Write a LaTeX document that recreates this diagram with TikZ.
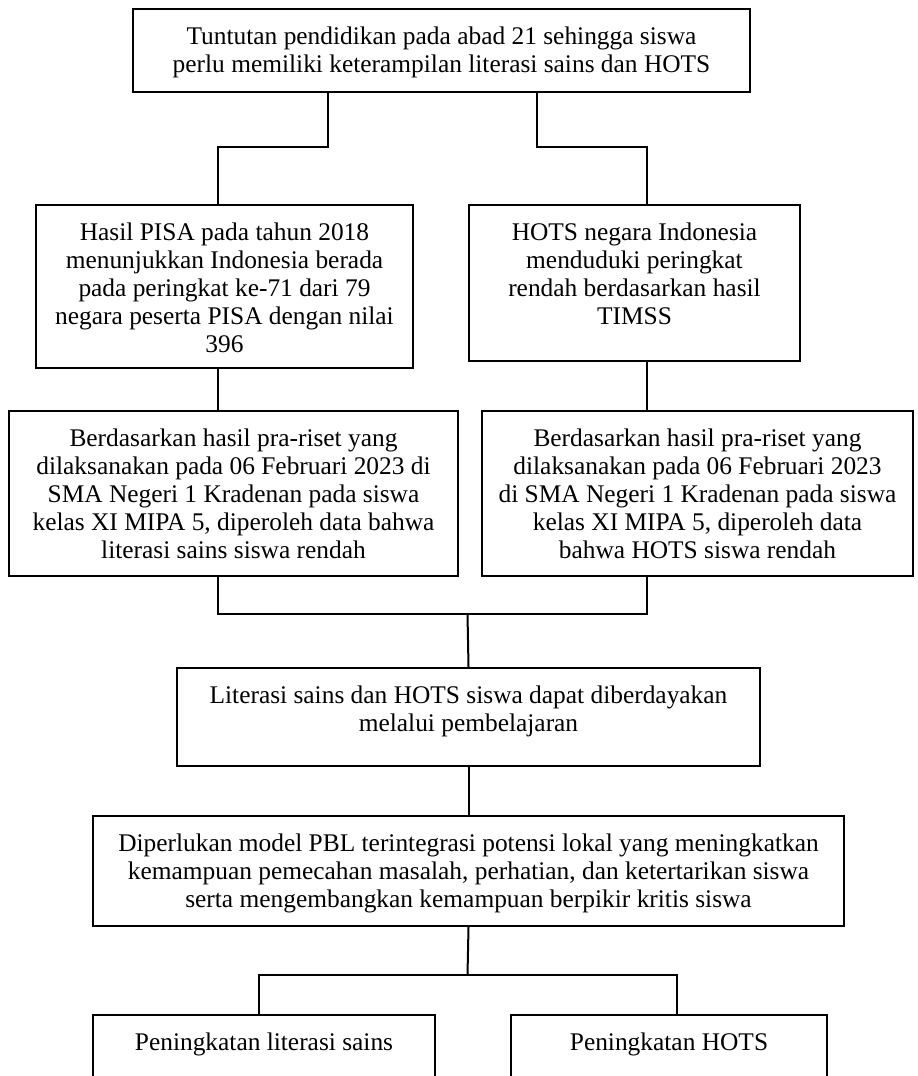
\documentclass[tikz,border=0pt]{standalone}
\usepackage{fontspec}
\setmainfont{Liberation Serif}
\usetikzlibrary{calc}

\begin{document}
\begin{tikzpicture}[
  x=0.5pt, y=-0.5pt,
  box/.style 2 args={draw, line width=1pt, anchor=north west, inner sep=0pt,
    execute at begin node={\begin{minipage}[c][#2][t]{#1}\centering\fontsize{12.7}{14}\selectfont\vspace*{9pt}},
    execute at end node={\end{minipage}}},
  link/.style={line width=1pt}
]
  \useasboundingbox (0,0) rectangle (917,1076);
  \clip (0,0) rectangle (917,1076);

  \node[box={308.5pt}{41.5pt}] (tuntutan) at (132,8) {Tuntutan pendidikan pada abad 21 sehingga siswa\\perlu memiliki keterampilan literasi sains dan HOTS};
  \node[box={188.5pt}{81.5pt}] (pisa) at (35,204) {Hasil PISA pada tahun 2018\\menunjukkan Indonesia berada\\pada peringkat ke-71 dari 79\\negara peserta PISA dengan nilai\\396};
  \node[box={165.5pt}{78pt}] (timss) at (468,204) {HOTS negara Indonesia\\menduduki peringkat\\rendah berdasarkan hasil\\TIMSS};
  \node[box={224.5pt}{82.5pt}] (prariset1) at (8,410) {Berdasarkan hasil pra-riset yang\\dilaksanakan pada 06 Februari 2023 di\\SMA Negeri 1 Kradenan pada siswa\\kelas XI MIPA 5, diperoleh data bahwa\\literasi sains siswa rendah};
  \node[box={215.5pt}{82.5pt}] (prariset2) at (481,410) {Berdasarkan hasil pra-riset yang\\dilaksanakan pada 06 Februari 2023\\di SMA Negeri 1 Kradenan pada siswa\\kelas XI MIPA 5, diperoleh data\\bahwa HOTS siswa rendah};
  \node[box={291.5pt}{49pt}] (literasi) at (176,667) {Literasi sains dan HOTS siswa dapat diberdayakan\\melalui pembelajaran};
  \node[box={375.5pt}{55pt}] (pbl) at (92,815) {Diperlukan model PBL terintegrasi potensi lokal yang meningkatkan\\kemampuan pemecahan masalah, perhatian, dan ketertarikan siswa\\serta mengembangkan kemampuan berpikir kritis siswa};
  \node[box={171pt}{50pt}] (hasil1) at (92,1014) {Peningkatan literasi sains};
  \node[box={158pt}{50pt}] (hasil2) at (510,1014) {Peningkatan HOTS};

  \coordinate (kiri) at (327.5,146.5);
  \coordinate (kanan) at (537,146.5);
  \coordinate (colL) at (217.5,0);
  \coordinate (colR) at (647,0);
  \coordinate (gabung) at (467.5,614);
  \coordinate (cabang) at (467.5,975);
  \coordinate (colL2) at (259,0);
  \coordinate (colR2) at (677,0);

  \draw[link] (tuntutan.south -| kiri) -- (kiri) -| (pisa.north -| colL);
  \draw[link] (tuntutan.south -| kanan) -- (kanan) -| (timss.north -| colR);
  \draw[link] (pisa.south -| colL) -- (prariset1.north -| colL);
  \draw[link] (timss.south -| colR) -- (prariset2.north -| colR);
  \draw[link] (prariset1.south -| colL) |- (gabung) -| (prariset2.south -| colR);
  \draw[link] (gabung) -- (literasi.north);
  \draw[link] (literasi.south) -- (pbl.north);
  \draw[link] (pbl.south) -- (cabang);
  \draw[link] (hasil1.north -| colL2) |- (cabang) -| (hasil2.north -| colR2);
\end{tikzpicture}
\end{document}
